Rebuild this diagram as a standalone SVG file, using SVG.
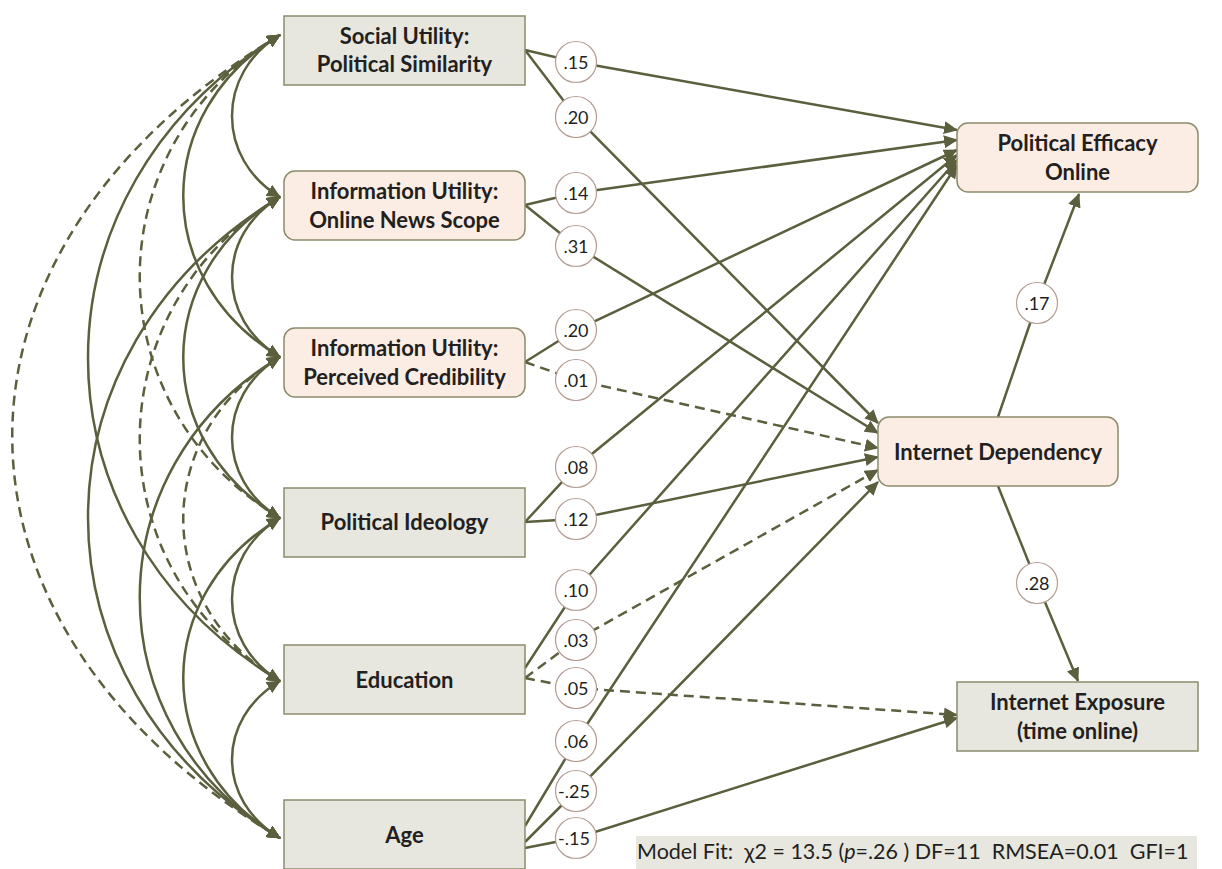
<svg xmlns="http://www.w3.org/2000/svg" width="1222" height="869" viewBox="0 0 1222 869">
<style>
.ln{fill:none;stroke:#5b5f3d;stroke-width:2.5}
.d{stroke-dasharray:10 6}
.box{fill:#e7e7df;stroke:#8c8c6c;stroke-width:1.5}
.pk{fill:#fbede4;stroke:#8c8c6c;stroke-width:1.5}
.t{font-family:Lato,"Liberation Sans",sans-serif;font-weight:bold;font-size:22px;fill:#231f20;text-anchor:middle}
.lc{fill:#fff;stroke:#b39c92;stroke-width:1.2}
.lt{font-family:Lato,"Liberation Sans",sans-serif;font-size:18px;fill:#231f20;text-anchor:middle}
.fit{font-family:Lato,"Liberation Sans",sans-serif;font-size:21.5px;fill:#231f20}
</style>
<defs>
<marker id="a" markerUnits="userSpaceOnUse" markerWidth="15" markerHeight="13" refX="13" refY="6.5" orient="auto-start-reverse" viewBox="0 0 15 13">
<path d="M0,0 L14,6.5 L0,13 z" fill="#5b5f3d"/>
</marker>
</defs>
<g id="connectors">
<g id="covariances">
<path class="ln" marker-start="url(#a)" marker-end="url(#a)" d="M280,35 C216,73 216,159 280,197"/>
<path class="ln" marker-start="url(#a)" marker-end="url(#a)" d="M280,197 C216,235 216,319 280,357"/>
<path class="ln" marker-start="url(#a)" marker-end="url(#a)" d="M280,357 C216,395 216,480 280,518"/>
<path class="ln" marker-start="url(#a)" marker-end="url(#a)" d="M280,518 C216,556 216,643 280,681"/>
<path class="ln" marker-start="url(#a)" marker-end="url(#a)" d="M280,681 C216,719 216,800 280,838"/>
<path class="ln" marker-start="url(#a)" marker-end="url(#a)" d="M280,35 C151,112 151,280 280,357"/>
<path class="ln" marker-start="url(#a)" marker-end="url(#a)" d="M280,197 C151,274 151,441 280,518"/>
<path class="ln d" marker-start="url(#a)" marker-end="url(#a)" d="M280,357 C151,434 151,604 280,681"/>
<path class="ln" marker-start="url(#a)" marker-end="url(#a)" d="M280,518 C151,595 151,761 280,838"/>
<path class="ln d" marker-start="url(#a)" marker-end="url(#a)" d="M280,35 C93,147 93,406 280,518"/>
<path class="ln d" marker-start="url(#a)" marker-end="url(#a)" d="M280,197 C93,309 93,569 280,681"/>
<path class="ln" marker-start="url(#a)" marker-end="url(#a)" d="M280,357 C93,469 93,726 280,838"/>
<path class="ln" marker-start="url(#a)" marker-end="url(#a)" d="M280,35 C24,189 24,527 280,681"/>
<path class="ln" marker-start="url(#a)" marker-end="url(#a)" d="M280,197 C24,351 24,684 280,838"/>
<path class="ln d" marker-start="url(#a)" marker-end="url(#a)" d="M280,35 C-77,249 -77,624 280,838"/>
</g>
<g id="paths">
<polyline class="ln" marker-end="url(#a)" points="525,50 576,62 957,130"/>
<polyline class="ln" marker-end="url(#a)" points="525,50 576,117 878,423"/>
<polyline class="ln" marker-end="url(#a)" points="525,205 576,193 957,140"/>
<polyline class="ln" marker-end="url(#a)" points="525,205 576,246 878,433"/>
<polyline class="ln" marker-end="url(#a)" points="525,362 576,330 957,150"/>
<polyline class="ln d" marker-end="url(#a)" points="525,362 576,380 878,448"/>
<polyline class="ln" marker-end="url(#a)" points="525,522 576,467 957,155"/>
<polyline class="ln" marker-end="url(#a)" points="525,522 576,519 878,457"/>
<polyline class="ln" marker-end="url(#a)" points="525,668 576,590 957,160"/>
<polyline class="ln d" marker-end="url(#a)" points="525,678 576,640 878,470"/>
<polyline class="ln d" marker-end="url(#a)" points="525,678 576,688 957,715"/>
<polyline class="ln" marker-end="url(#a)" points="525,826 576,741 957,165"/>
<polyline class="ln" marker-end="url(#a)" points="525,842 576,791 878,482"/>
<polyline class="ln" marker-end="url(#a)" points="525,848 576,838 957,718"/>
<polyline class="ln" marker-end="url(#a)" points="998,417 1037,303 1079,194"/>
<polyline class="ln" marker-end="url(#a)" points="998,486 1037,583 1078,681"/>
</g>
<g id="labels">
<circle class="lc" cx="576" cy="62" r="20.5"/><text class="lt" x="576" y="68.5">.15</text>
<circle class="lc" cx="576" cy="117" r="20.5"/><text class="lt" x="576" y="123.5">.20</text>
<circle class="lc" cx="576" cy="193" r="20.5"/><text class="lt" x="576" y="199.5">.14</text>
<circle class="lc" cx="576" cy="246" r="20.5"/><text class="lt" x="576" y="252.5">.31</text>
<circle class="lc" cx="576" cy="330" r="20.5"/><text class="lt" x="576" y="336.5">.20</text>
<circle class="lc" cx="576" cy="380" r="20.5"/><text class="lt" x="576" y="386.5">.01</text>
<circle class="lc" cx="576" cy="467" r="20.5"/><text class="lt" x="576" y="473.5">.08</text>
<circle class="lc" cx="576" cy="519" r="20.5"/><text class="lt" x="576" y="525.5">.12</text>
<circle class="lc" cx="576" cy="590" r="20.5"/><text class="lt" x="576" y="596.5">.10</text>
<circle class="lc" cx="576" cy="640" r="20.5"/><text class="lt" x="576" y="646.5">.03</text>
<circle class="lc" cx="576" cy="688" r="20.5"/><text class="lt" x="576" y="694.5">.05</text>
<circle class="lc" cx="576" cy="741" r="20.5"/><text class="lt" x="576" y="747.5">.06</text>
<circle class="lc" cx="576" cy="791" r="20.5"/><text class="lt" x="574" y="797.5">-.25</text>
<circle class="lc" cx="576" cy="838" r="20.5"/><text class="lt" x="574" y="844.5">-.15</text>
<circle class="lc" cx="1037" cy="303" r="20.5"/><text class="lt" x="1037" y="309.5">.17</text>
<circle class="lc" cx="1037" cy="583" r="20.5"/><text class="lt" x="1037" y="589.5">.28</text>
</g>
</g>
<g id="social-utility"><rect class="box" x="284" y="16" width="241" height="69"/><text class="t" x="404.5" y="44">Social Utility:</text><text class="t" x="404.5" y="72">Political Similarity</text></g>
<g id="news-scope"><rect class="pk" x="284" y="171" width="241" height="69" rx="11"/><text class="t" x="404.5" y="199">Information Utility:</text><text class="t" x="404.5" y="228">Online News Scope</text></g>
<g id="credibility"><rect class="pk" x="284" y="328" width="241" height="69" rx="11"/><text class="t" x="404.5" y="356">Information Utility:</text><text class="t" x="404.5" y="385">Perceived Credibility</text></g>
<g id="ideology"><rect class="box" x="284" y="488" width="241" height="69"/><text class="t" x="404.5" y="530">Political Ideology</text></g>
<g id="education"><rect class="box" x="284" y="645" width="241" height="69"/><text class="t" x="404.5" y="688">Education</text></g>
<g id="age"><rect class="box" x="284" y="800" width="241" height="69"/><text class="t" x="404.5" y="843">Age</text></g>
<g id="efficacy"><rect class="pk" x="957" y="123" width="241" height="69" rx="11"/><text class="t" x="1077.5" y="151">Political Efficacy</text><text class="t" x="1077.5" y="180">Online</text></g>
<g id="dependency"><rect class="pk" x="878" y="417" width="240" height="69" rx="11"/><text class="t" x="998" y="460">Internet Dependency</text></g>
<g id="exposure"><rect class="box" x="957" y="682" width="241" height="69"/><text class="t" x="1077.5" y="710">Internet Exposure</text><text class="t" x="1077.5" y="739">(time online)</text></g>
<g id="model-fit"><rect x="636" y="836" width="561" height="33" fill="#e7e7df"/><text class="fit" x="637" y="859" xml:space="preserve">Model Fit:  χ2 = 13.5 (<tspan font-style="italic">p</tspan>=.26 ) DF=11  RMSEA=0.01  GFI=1</text></g>
</svg>
